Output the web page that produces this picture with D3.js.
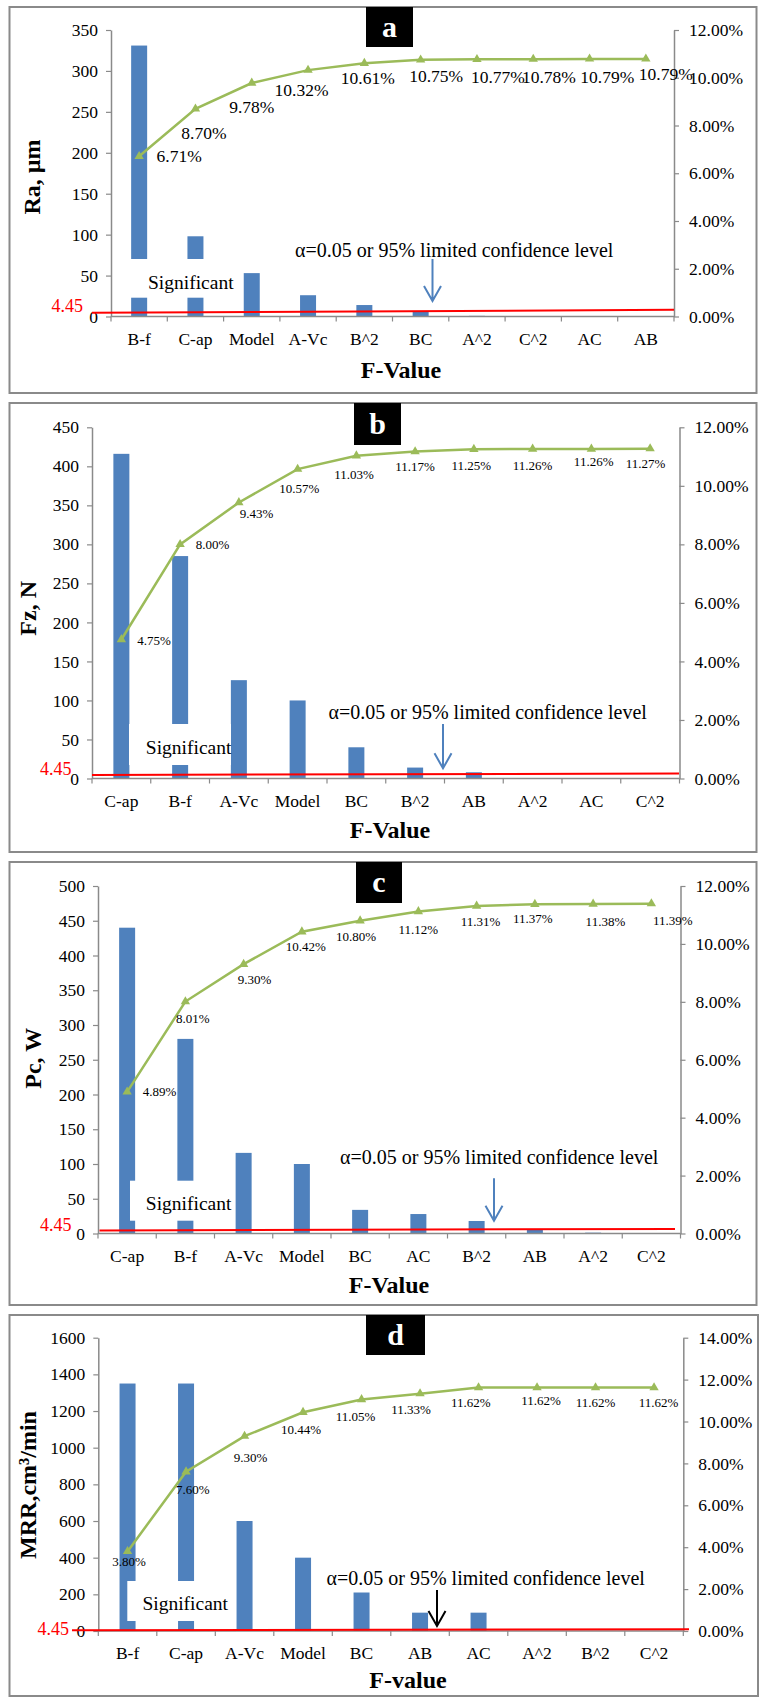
<!DOCTYPE html>
<html>
<head>
<meta charset="utf-8">
<script src="https://cdn.jsdelivr.net/npm/d3@7"></script>
<style>
  body { margin: 0; background: #fff; }
  svg { display: block; }
  text { font-family: "Liberation Serif", "Times New Roman", serif; fill: #000; }
</style>
</head>
<body>
<script>
// ---- Data: F-values of model terms and cumulative percentages ----
const catsRa  = ["B-f", "C-ap", "Model", "A-Vc", "B^2", "BC", "A^2", "C^2", "AC", "AB"];
const fRa     = [331, 98, 53, 26, 14, 6, 0.8, 0.3, 0.1, 0.05];
const cumRa   = [6.71, 8.70, 9.78, 10.32, 10.61, 10.75, 10.77, 10.78, 10.79, 10.79];

const catsFz  = ["C-ap", "B-f", "A-Vc", "Model", "BC", "B^2", "AB", "A^2", "AC", "C^2"];
const fFz     = [416, 285, 126, 100, 40, 14, 8, 0.3, 0.2, 0.1];
const cumFz   = [4.75, 8.00, 9.43, 10.57, 11.03, 11.17, 11.25, 11.26, 11.26, 11.27];

const catsPc  = ["C-ap", "B-f", "A-Vc", "Model", "BC", "AC", "B^2", "AB", "A^2", "C^2"];
const fPc     = [440, 280, 116, 100, 34, 28, 18, 6.5, 1.2, 0.2];
const cumPc   = [4.89, 8.01, 9.30, 10.42, 10.80, 11.12, 11.31, 11.37, 11.38, 11.39];

const catsMRR = ["B-f", "C-ap", "A-Vc", "Model", "BC", "AB", "AC", "A^2", "B^2", "C^2"];
const fMRR    = [1350, 1350, 600, 400, 210, 100, 100, 0, 0, 0];
const cumMRR  = [3.80, 7.60, 9.30, 10.44, 11.05, 11.33, 11.62, 11.62, 11.62, 11.62];

// Critical F-value at alpha = 0.05
const fCritical = 4.45;

// Axis tick values
const ticksRa   = [0, 50, 100, 150, 200, 250, 300, 350];
const ticksFz   = [0, 50, 100, 150, 200, 250, 300, 350, 400, 450];
const ticksPc   = [0, 50, 100, 150, 200, 250, 300, 350, 400, 450, 500];
const ticksMRR  = [0, 200, 400, 600, 800, 1000, 1200, 1400, 1600];
const pctTicks12 = [0, 2, 4, 6, 8, 10, 12];
const pctTicks14 = [0, 2, 4, 6, 8, 10, 12, 14];

// ---- Layout: percentage label nudges (centre offsets from each point) ----
const offRa  = [[40,0],[8.5,23.7],[0,23.7],[-6.5,19.7],[3.5,14.3],[15.5,16],[21,17.7],[15.7,18],[17.7,18],[20,14.7]];
const offFz  = [[32.7,1],[32.3,0],[17.7,10.7],[1.7,19.3],[-2.4,18.3],[0,14.7],[-2.5,16],[0,16],[2.3,12.7],[-4.5,15]];
const offPc  = [[32.3,0],[7.5,17.3],[11,15.7],[4,15],[-4,15.7],[0,18],[4,15.3],[-2,14.3],[12.3,17],[21.5,17]];
const offMRR = [[1.4,10.4],[6.8,17.6],[6,21.7],[-2,17],[-6,17.3],[-9,15.7],[-7.7,15],[4,13.3],[0,14.7],[4.5,14.7]];

const BLUE = "#4F81BD", GREEN = "#9BBB59", RED = "#FF0000", GRID = "#8A8A8A";

const panels = [
  { letter: "a", cats: catsRa, f: fRa, cum: cumRa, leftTicks: ticksRa, rightTicks: pctTicks12,
    yTitle: "Ra, µm", xTitle: "F-Value", offs: offRa, pctFont: 17.5,
    frame: [9.5, 7, 747, 386], x0: 111, x1: 674, yTop: 30, yBot: 316.5,
    box: [366, 7, 47, 40], yTitlePos: [32, 177], xTitlePos: [401, 369.3],
    alphaPos: [295, 250], sigPos: [148, 281.7], sigBox: [131, 259, 107, 38.7],
    arrow: [432.5, 259, 301], arrowColor: BLUE, red: [92, 674, 3], redLabel: [83, 306] },
  { letter: "b", cats: catsFz, f: fFz, cum: cumFz, leftTicks: ticksFz, rightTicks: pctTicks12,
    yTitle: "Fz, N", xTitle: "F-Value", offs: offFz, pctFont: 13,
    frame: [9.5, 403, 747, 449], x0: 92, x1: 679.5, yTop: 427.3, yBot: 778.5,
    box: [354, 403, 47, 42], yTitlePos: [27.3, 608.3], xTitlePos: [390, 830],
    alphaPos: [328.5, 711.7], sigPos: [145.8, 746.7], sigBox: [129, 724, 102, 41],
    arrow: [443, 724, 768.3], arrowColor: BLUE, red: [92, 679, 1.5], redLabel: [71.4, 768.3] },
  { letter: "c", cats: catsPc, f: fPc, cum: cumPc, leftTicks: ticksPc, rightTicks: pctTicks12,
    yTitle: "Pc, W", xTitle: "F-Value", offs: offPc, pctFont: 13,
    frame: [9.5, 862, 747, 443], x0: 98, x1: 680.5, yTop: 886, yBot: 1233.5,
    box: [356, 862, 46, 41], yTitlePos: [33, 1058.3], xTitlePos: [389, 1285],
    alphaPos: [340, 1156.7], sigPos: [145.8, 1203.3], sigBox: [130, 1180.7, 103, 40],
    arrow: [494, 1178.3, 1220.7], arrowColor: BLUE, red: [99.5, 675, 1.5], redLabel: [71.4, 1225] },
  { letter: "d", cats: catsMRR, f: fMRR, cum: cumMRR, leftTicks: ticksMRR, rightTicks: pctTicks14,
    yTitle: "MRR,cm³/min", xTitle: "F-value", offs: offMRR, pctFont: 13,
    frame: [9.5, 1315, 748.5, 381], x0: 98.3, x1: 683.3, yTop: 1337.7, yBot: 1631,
    box: [366, 1315, 59, 40], yTitlePos: [27.3, 1485], xTitlePos: [408, 1679.3],
    alphaPos: [326.5, 1578.3], sigPos: [142.4, 1603.3], sigBox: [127.3, 1581, 105, 40],
    arrow: [437, 1590, 1626], arrowColor: "#000", red: [72, 689, 1], redLabel: [69, 1628.5] }
];

const svg = d3.select("body").append("svg").attr("width", 760).attr("height", 1697);

function drawPanel(p) {
  const g = svg.append("g");

  // outer frame
  g.append("rect").attr("x", p.frame[0]).attr("y", p.frame[1])
    .attr("width", p.frame[2]).attr("height", p.frame[3])
    .attr("fill", "#fff").attr("stroke", GRID).attr("stroke-width", 2);

  const x = d3.scaleBand().domain(p.cats).range([p.x0, p.x1]).paddingInner(0).paddingOuter(0);
  const yL = d3.scaleLinear().domain([0, d3.max(p.leftTicks)]).range([p.yBot, p.yTop]);
  const yR = d3.scaleLinear().domain([0, d3.max(p.rightTicks)]).range([p.yBot, p.yTop]);
  const bw = 16;

  // bars
  g.selectAll("rect.bar").data(p.cats).join("rect").attr("class", "bar")
    .attr("x", d => x(d) + x.bandwidth() / 2 - bw / 2)
    .attr("width", bw)
    .attr("y", (d, i) => yL(p.f[i]))
    .attr("height", (d, i) => p.yBot - yL(p.f[i]))
    .attr("fill", BLUE);

  // white label patch behind "Significant"
  g.append("rect").attr("x", p.sigBox[0]).attr("y", p.sigBox[1])
    .attr("width", p.sigBox[2]).attr("height", p.sigBox[3]).attr("fill", "#fff");
  g.append("text").attr("x", p.sigPos[0]).attr("y", p.sigPos[1]).attr("dy", "0.35em")
    .attr("font-size", 19.5).text("Significant");

  // left axis
  const axL = g.append("g").attr("transform", `translate(${p.x0},0)`)
    .call(d3.axisLeft(yL).tickValues(p.leftTicks).tickFormat(d3.format("d")).tickSize(5).tickSizeOuter(0).tickPadding(8));
  // right axis
  const axR = g.append("g").attr("transform", `translate(${p.x1},0)`)
    .call(d3.axisRight(yR).tickValues(p.rightTicks).tickFormat(d => d.toFixed(2) + "%").tickSize(5).tickSizeOuter(0).tickPadding(10));
  [axL, axR].forEach(ax => {
    ax.select(".domain").attr("stroke", GRID).attr("stroke-width", 1.5);
    ax.selectAll(".tick line").attr("stroke", GRID).attr("stroke-width", 1.2);
    ax.selectAll(".tick text").attr("font-size", 17.5)
      .attr("font-family", "Liberation Serif, Times New Roman, serif").attr("fill", "#000");
  });

  // category axis
  const axB = g.append("g");
  axB.append("line").attr("x1", p.x0).attr("x2", p.x1).attr("y1", p.yBot).attr("y2", p.yBot)
    .attr("stroke", GRID).attr("stroke-width", 1.5);
  const bounds = p.cats.map(d => x(d)).concat([p.x1]);
  axB.selectAll("line.tk").data(bounds).join("line").attr("class", "tk")
    .attr("x1", d => d).attr("x2", d => d).attr("y1", p.yBot).attr("y2", p.yBot + 5)
    .attr("stroke", GRID).attr("stroke-width", 1.2);
  axB.selectAll("text").data(p.cats).join("text")
    .attr("x", d => x(d) + x.bandwidth() / 2).attr("y", p.yBot + 22).attr("dy", "0.35em")
    .attr("text-anchor", "middle").attr("font-size", 17.5).text(d => d);

  // critical F-value line
  const yc = yL(fCritical);
  g.append("line").attr("x1", p.red[0]).attr("x2", p.red[1])
    .attr("y1", yc).attr("y2", yc - p.red[2])
    .attr("stroke", RED).attr("stroke-width", 2);
  g.append("text").attr("x", p.redLabel[0]).attr("y", p.redLabel[1]).attr("dy", "0.35em")
    .attr("text-anchor", "end").attr("font-size", 18).style("fill", RED).text(fCritical.toFixed(2));

  // confidence note and arrow
  g.append("text").attr("x", p.alphaPos[0]).attr("y", p.alphaPos[1]).attr("dy", "0.35em")
    .attr("font-size", 20).text("α=0.05 or 95% limited confidence level");
  const [ax, ay1, ay2] = p.arrow;
  g.append("path")
    .attr("d", `M${ax},${ay1}V${ay2}M${ax - 8.5},${ay2 - 15}L${ax},${ay2}L${ax + 8.5},${ay2 - 15}`)
    .attr("fill", "none").attr("stroke", p.arrowColor).attr("stroke-width", 2);

  // cumulative percentage line
  const pts = p.cats.map((d, i) => [x(d) + x.bandwidth() / 2, yR(p.cum[i])]);
  g.append("path").datum(pts).attr("d", d3.line())
    .attr("fill", "none").attr("stroke", GREEN).attr("stroke-width", 2.5);
  g.selectAll("path.mk").data(pts).join("path").attr("class", "mk")
    .attr("transform", d => `translate(${d[0]},${d[1]})`)
    .attr("d", d3.symbol().type(d3.symbolTriangle).size(38))
    .attr("fill", GREEN);
  g.selectAll("text.pct").data(pts).join("text").attr("class", "pct")
    .attr("x", (d, i) => d[0] + p.offs[i][0]).attr("y", (d, i) => d[1] + p.offs[i][1])
    .attr("dy", "0.35em").attr("text-anchor", "middle").attr("font-size", p.pctFont)
    .text((d, i) => p.cum[i].toFixed(2) + "%");

  // axis titles
  g.append("text").attr("transform", `translate(${p.yTitlePos[0]},${p.yTitlePos[1]}) rotate(-90)`)
    .attr("dy", "0.35em").attr("text-anchor", "middle").attr("font-size", 24)
    .attr("font-weight", "bold").text(p.yTitle);
  g.append("text").attr("x", p.xTitlePos[0]).attr("y", p.xTitlePos[1]).attr("dy", "0.35em")
    .attr("text-anchor", "middle").attr("font-size", 24).attr("font-weight", "bold").text(p.xTitle);

  // panel letter tag
  g.append("rect").attr("x", p.box[0]).attr("y", p.box[1]).attr("width", p.box[2]).attr("height", p.box[3])
    .attr("fill", "#000");
  g.append("text").attr("x", p.box[0] + p.box[2] / 2).attr("y", p.box[1] + p.box[3] / 2)
    .attr("dy", "0.32em").attr("text-anchor", "middle").attr("font-size", 30)
    .attr("font-weight", "bold").style("fill", "#fff").text(p.letter);
}

panels.forEach(drawPanel);
</script>
</body>
</html>
